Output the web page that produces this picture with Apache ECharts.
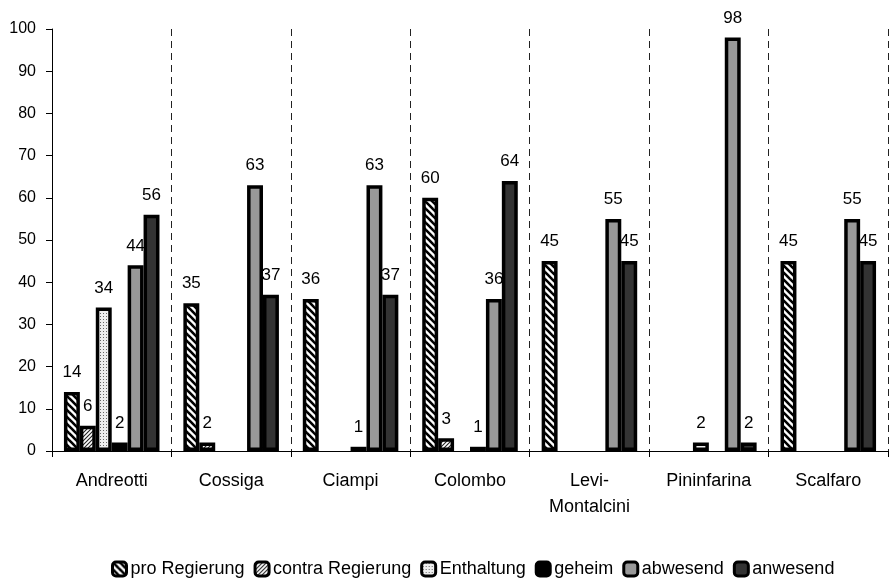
<!DOCTYPE html>
<html>
<head>
<meta charset="utf-8">
<script src="https://cdn.jsdelivr.net/npm/echarts@6/dist/echarts.min.js"></script>
<style>
  html, body { margin: 0; padding: 0; background: #fff; }
  #chart { width: 890px; height: 578px; }
</style>
</head>
<body>
<div id="chart"></div>
<script>
// Senators and their voting behaviour
const categories = ['Andreotti', 'Cossiga', 'Ciampi', 'Colombo', 'Levi-\nMontalcini', 'Pininfarina', 'Scalfaro'];
const seriesNames = ['pro Regierung', 'contra Regierung', 'Enthaltung', 'geheim', 'abwesend', 'anwesend'];
const proRegierung    = [14, 35, 36, 60, 45, null, 45];
const contraRegierung = [6, 2, null, 3, null, null, null];
const enthaltung      = [34, null, null, null, null, 2, null];
const geheim          = [2, null, 1, 1, null, null, null];
const abwesend        = [44, 63, 63, 36, 55, 98, 55];
const anwesend        = [56, 37, 37, 64, 45, 2, 45];
const yTicks = { min: 0, max: 100, step: 10 };

// Fill patterns drawn onto small tiles
function tile(size, draw) {
  const c = document.createElement('canvas');
  c.width = size; c.height = size;
  const ctx = c.getContext('2d');
  draw(ctx, size);
  return { image: c, repeat: 'repeat' };
}
const stripesWide = tile(7, (ctx, s) => {
  ctx.fillStyle = '#fff'; ctx.fillRect(0, 0, s, s);
  ctx.strokeStyle = '#000'; ctx.lineWidth = 2.6;
  for (let k = -1; k <= 1; k++) {
    ctx.beginPath(); ctx.moveTo(k * s - 1, -1); ctx.lineTo(k * s + s + 1, s + 1); ctx.stroke();
  }
});
const stripesFine = tile(4, (ctx, s) => {
  ctx.fillStyle = '#fff'; ctx.fillRect(0, 0, s, s);
  ctx.strokeStyle = '#222'; ctx.lineWidth = 1.1;
  for (let k = -1; k <= 1; k++) {
    ctx.beginPath(); ctx.moveTo(k * s - 1, s + 1); ctx.lineTo(k * s + s + 1, -1); ctx.stroke();
  }
});
const dots = tile(3, (ctx, s) => {
  ctx.fillStyle = '#eeeeee'; ctx.fillRect(0, 0, s, s);
  ctx.fillStyle = '#666'; ctx.fillRect(1, 1, 1, 1);
});

const fills = [stripesWide, stripesFine, dots, '#000000', '#999999', '#333333'];
const values = [proRegierung, contraRegierung, enthaltung, geheim, abwesend, anwesend];

const font = '"Liberation Sans", Arial, sans-serif';

const chart = echarts.init(document.getElementById('chart'), null, { renderer: 'canvas' });
chart.setOption({
  animation: false,
  textStyle: { fontFamily: font, color: '#000' },
  grid: { left: 52, right: 2, top: 29, bottom: 127 },
  xAxis: {
    type: 'category',
    data: categories,
    axisLine: { lineStyle: { color: '#000', width: 1 } },
    axisTick: { show: true, length: 6, lineStyle: { color: '#000' } },
    axisLabel: { fontSize: 18, color: '#000', margin: 17, lineHeight: 26, fontFamily: font },
    splitLine: { show: true, lineStyle: { color: '#222', type: [7, 5], width: 1 } }
  },
  yAxis: {
    type: 'value',
    min: yTicks.min, max: yTicks.max, interval: yTicks.step,
    axisLine: { show: true, lineStyle: { color: '#000', width: 1 } },
    axisTick: { show: true, length: 6, lineStyle: { color: '#000' } },
    axisLabel: { fontSize: 16, color: '#000', margin: 16, fontFamily: font },
    splitLine: { show: false }
  },
  legend: {
    left: 106, top: 555,
    itemWidth: 14, itemHeight: 14, itemGap: 9,
    icon: 'roundRect',
    itemStyle: { borderColor: '#000', borderWidth: 3 },
    textStyle: { fontSize: 18, color: '#000', fontFamily: font, padding: [2, 0, 0, -1] },
    data: seriesNames
  },
  series: seriesNames.map((name, i) => ({
    name,
    type: 'bar',
    data: values[i],
    barGap: '0%',
    barCategoryGap: '20%',
    itemStyle: { color: fills[i], borderColor: '#000', borderWidth: 3.5 },
    label: {
      show: true, position: 'top', distance: 11,
      fontSize: 17, color: '#000', fontFamily: font
    }
  }))
});
</script>
</body>
</html>
